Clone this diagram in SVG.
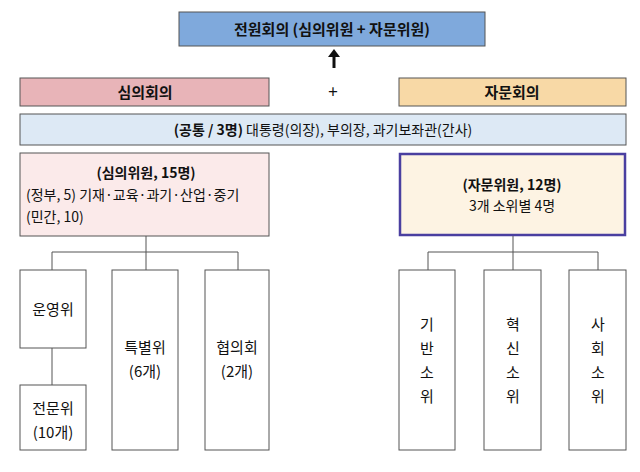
<svg xmlns="http://www.w3.org/2000/svg" width="640" height="472" viewBox="0 0 640 472">
<style>
text{font-family:"Noto Sans CJK KR","Noto Sans",sans-serif;fill:#111;text-anchor:middle}
.b{font-weight:bold}
.w{fill:#fff;stroke:#555;stroke-width:1}
.ln{stroke:#555;stroke-width:1;fill:none}
</style>
<rect width="640" height="472" fill="#fff"/>
<g id="all"><rect x="179" y="12" width="306" height="34" fill="#7fa9dc" stroke="#555"/><text x="332" y="35" font-size="15" class="b">전원회의 (심의위원  +  자문위원)</text></g>
<g id="arrow"><path d="M334 68 V55" stroke="#111" stroke-width="3"/><path d="M328 57 L334 49 L340 57 Z" fill="#111"/></g>
<g id="simui"><rect x="20" y="78" width="249" height="28" fill="#e8b4b8" stroke="#555"/><text x="145" y="98" font-size="15" class="b">심의회의</text></g>
<text x="333" y="98" font-size="17">+</text>
<g id="jamun"><rect x="399" y="78" width="227" height="28" fill="#f8d9a6" stroke="#555"/><text x="512" y="98" font-size="15" class="b">자문회의</text></g>
<g id="common"><rect x="20" y="114" width="606" height="31" fill="#dde9f5" stroke="#555"/><text x="323" y="135" font-size="14"><tspan class="b">(공통 / 3명)</tspan> 대통령(의장), 부의장, 과기보좌관(간사)</text></g>
<g id="simuiwon"><rect x="20" y="153" width="249" height="83" fill="#fbeaea" stroke="#555"/><text x="146" y="178" font-size="14" class="b">(심의위원, 15명)</text><text x="26" y="200" font-size="14" style="text-anchor:start">(정부, 5) 기재·교육·과기·산업·중기</text><text x="26" y="222" font-size="14" style="text-anchor:start">(민간, 10)</text></g>
<g id="jamunwon"><rect x="400" y="154" width="225" height="81" fill="#fdf3e3" stroke="#4a3fa0" stroke-width="2.5"/><text x="512" y="190" font-size="14" class="b">(자문위원, 12명)</text><text x="512" y="211" font-size="14">3개 소위별 4명</text></g>
<g id="connectors" class="ln">
<path d="M146 236 V270 M52 270 V252 H238 V270 M52 348 V385"/>
<path d="M513 236 V270 M428 270 V252 H598 V270"/>
</g>
<g id="unyoung"><rect class="w" x="20" y="270" width="66" height="78"/><text x="53" y="315" font-size="15">운영위</text></g>
<g id="jeonmun"><rect class="w" x="20" y="385" width="66" height="65"/><text x="53" y="414" font-size="15">전문위</text><text x="53" y="438" font-size="15">(10개)</text></g>
<g id="teukbyul"><rect class="w" x="112" y="270" width="66" height="180"/><text x="145" y="353" font-size="15">특별위</text><text x="145" y="377" font-size="15">(6개)</text></g>
<g id="hyubui"><rect class="w" x="205" y="270" width="64" height="180"/><text x="237" y="353" font-size="15">협의회</text><text x="237" y="377" font-size="15">(2개)</text></g>
<g id="giban"><rect class="w" x="399" y="270" width="56" height="180"/><text x="427" y="330" font-size="15">기</text><text x="427" y="354" font-size="15">반</text><text x="427" y="378" font-size="15">소</text><text x="427" y="402" font-size="15">위</text></g>
<g id="hyuksin"><rect class="w" x="484" y="270" width="57" height="180"/><text x="513" y="330" font-size="15">혁</text><text x="513" y="354" font-size="15">신</text><text x="513" y="378" font-size="15">소</text><text x="513" y="402" font-size="15">위</text></g>
<g id="sahoe"><rect class="w" x="569" y="270" width="57" height="180"/><text x="598" y="330" font-size="15">사</text><text x="598" y="354" font-size="15">회</text><text x="598" y="378" font-size="15">소</text><text x="598" y="402" font-size="15">위</text></g>
</svg>
